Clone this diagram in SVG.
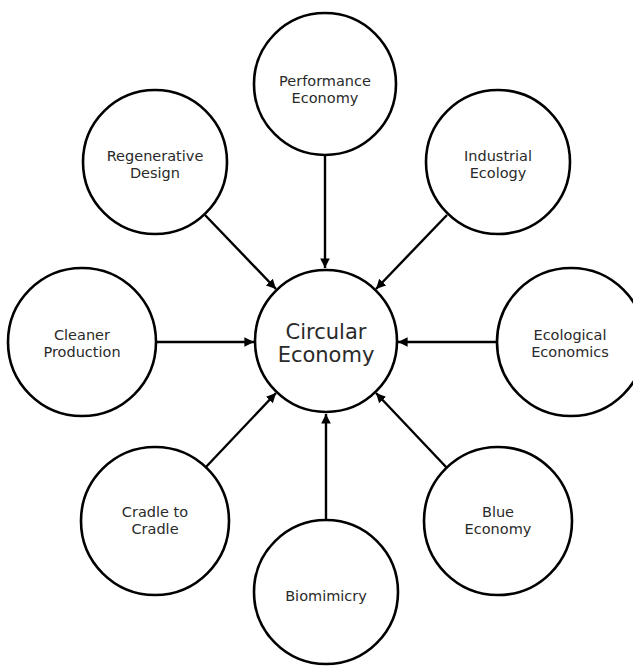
<svg xmlns="http://www.w3.org/2000/svg" width="633" height="668" viewBox="0 0 633 668">
<style>
.n{fill:#fff;stroke:#000;stroke-width:2.6}
.t{font-family:"DejaVu Sans",sans-serif;font-size:14.5px;fill:#2a2a2a;text-anchor:middle}
.c{font-size:21px}
.e{stroke:#000;stroke-width:2.4;fill:none;marker-end:url(#ah)}
</style>
<defs>
<marker id="ah" viewBox="0 0 10 10" refX="10" refY="5" markerWidth="4" markerHeight="4" orient="auto" markerUnits="strokeWidth">
<path d="M0,0 L10,5 L0,10 z" fill="#000"/>
</marker>
</defs>
<rect width="633" height="668" fill="#fff"/>
<g id="connectors">
<line class="e" x1="325" y1="156" x2="325" y2="268"/>
<line class="e" x1="205" y1="215" x2="276" y2="289"/>
<line class="e" x1="447" y1="215" x2="376" y2="289"/>
<line class="e" x1="156" y1="342" x2="254" y2="342"/>
<line class="e" x1="496" y1="342" x2="398" y2="342"/>
<line class="e" x1="205" y1="468" x2="276" y2="393"/>
<line class="e" x1="447" y1="468" x2="376" y2="393"/>
<line class="e" x1="326" y1="520" x2="326" y2="414"/>
</g>
<g id="circular-economy">
<circle class="n" cx="326" cy="341" r="71"/>
<text class="t c" x="326" y="339">Circular</text>
<text class="t c" x="326" y="362">Economy</text>
</g>
<g id="performance-economy">
<circle class="n" cx="325" cy="84" r="71"/>
<text class="t" x="325" y="86">Performance</text>
<text class="t" x="325" y="103">Economy</text>
</g>
<g id="regenerative-design">
<circle class="n" cx="155" cy="162" r="72"/>
<text class="t" x="155" y="161">Regenerative</text>
<text class="t" x="155" y="178">Design</text>
</g>
<g id="industrial-ecology">
<circle class="n" cx="498" cy="162" r="72"/>
<text class="t" x="498" y="161">Industrial</text>
<text class="t" x="498" y="178">Ecology</text>
</g>
<g id="cleaner-production">
<circle class="n" cx="82" cy="342" r="74"/>
<text class="t" x="82" y="340">Cleaner</text>
<text class="t" x="82" y="357">Production</text>
</g>
<g id="ecological-economics">
<circle class="n" cx="571" cy="342" r="74"/>
<text class="t" x="570" y="340">Ecological</text>
<text class="t" x="570" y="357">Economics</text>
</g>
<g id="cradle-to-cradle">
<circle class="n" cx="155" cy="521" r="74"/>
<text class="t" x="155" y="517">Cradle to</text>
<text class="t" x="155" y="534">Cradle</text>
</g>
<g id="blue-economy">
<circle class="n" cx="498" cy="521" r="74"/>
<text class="t" x="498" y="517">Blue</text>
<text class="t" x="498" y="534">Economy</text>
</g>
<g id="biomimicry">
<circle class="n" cx="326" cy="592" r="72"/>
<text class="t" x="326" y="601">Biomimicry</text>
</g>
</svg>
